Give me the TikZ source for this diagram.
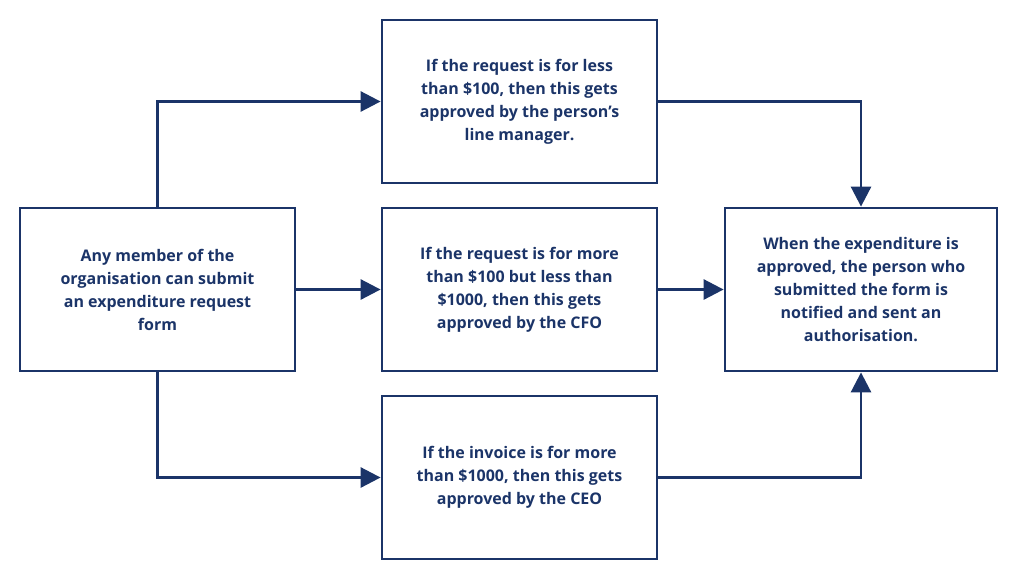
\documentclass[tikz,border=0pt]{standalone}
\usepackage{fontspec}
\setmainfont{Open Sans}
\usetikzlibrary{arrows.meta}
\definecolor{navy}{HTML}{1B3468}
\begin{document}
\begin{tikzpicture}[x=1pt,y=-1pt,
  box/.style={draw=navy,line width=2.8pt,minimum width=275pt,minimum height=163pt,align=center,text=navy,font=\fontsize{16}{23}\selectfont\bfseries,inner sep=0pt},
  arr/.style={draw=navy,line width=2.8pt,-{Triangle[length=20pt,width=20pt]}}]
\useasboundingbox (0,0) rectangle (1024,579);
\node[box] (L) at (157.5,289.5) {Any member of the\\organisation can submit\\an expenditure request\\form};
\node[box] (T) at (519.5,101.5) {If the request is for less\\than \$100, then this gets\\approved by the person’s\\line manager.};
\node[box] (M) at (519.5,289.5) {If the request is for more\\than \$100 but less than\\\$1000, then this gets\\approved by the CFO};
\node[box] (B) at (519.5,477.5) {If the invoice is for more\\than \$1000, then this gets\\approved by the CEO};
\node[box,minimum width=272pt] (R) at (861,289.5) {When the expenditure is\\approved, the person who\\submitted the form is\\notified and sent an\\authorisation.};
\draw[arr] (L.north) |- (T.west);
\draw[arr] (L.south) |- (B.west);
\draw[arr] (L.east) -- (M.west);
\draw[arr] (M.east) -- (R.west);
\draw[arr] (T.east) -| (R.north);
\draw[arr] (B.east) -| (R.south);
\end{tikzpicture}
\end{document}
